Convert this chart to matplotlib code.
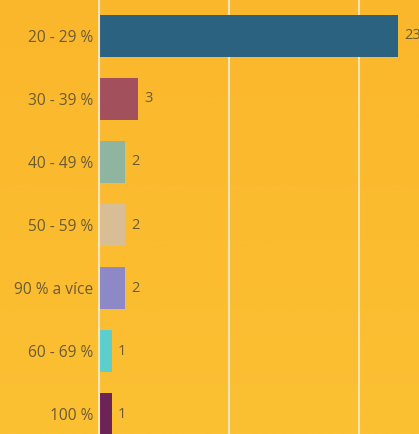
import matplotlib
matplotlib.use("Agg")
import matplotlib.pyplot as plt
import numpy as np
from matplotlib.colors import LinearSegmentedColormap

# data
categories = ["20 - 29 %", "30 - 39 %", "40 - 49 %", "50 - 59 %",
              "90 % a více", "60 - 69 %", "100 %"]
counts = [23, 3, 2, 2, 2, 1, 1]
bar_colors = ["#2b6280", "#a1505c", "#8fb4a0", "#d8bd95",
              "#8d88c6", "#5ccfcd", "#6c2456"]

bg = "#fbb92f"
txt = "#6b5c30"
grid_c = "#f6e4bd"

plt.rcParams['font.family'] = ['Open Sans', 'DejaVu Sans']

fig = plt.figure(figsize=(4.19, 4.34), dpi=100)
fig.patch.set_facecolor(bg)

# subtle background gradient
bgax = fig.add_axes([0, 0, 1, 1], zorder=-10)
grad = np.linspace(0, 1, 256).reshape(-1, 1)
cmap = LinearSegmentedColormap.from_list("bg", ["#fbb72c", "#fbc033"])
bgax.imshow(grad, aspect="auto", cmap=cmap, extent=[0, 1, 0, 1], origin="upper")
bgax.axis("off")

ax = fig.add_axes([99 / 419, 0, 1 - 99 / 419, 1])
ax.patch.set_alpha(0)

y = np.arange(len(categories))
ax.barh(y, counts, height=0.68, color=bar_colors, zorder=3)
for yi, v in zip(y, counts):
    ax.text(v + 0.45, yi, str(v), va="center", ha="left",
            fontsize=10.5, color=txt, zorder=4, clip_on=False)

ax.set_xlim(0, 24.6)
ax.set_ylim(6.317, -0.571)
ax.set_xticks([0, 10, 20])
ax.xaxis.grid(True, color=grid_c, linewidth=1.5, zorder=1)
ax.tick_params(axis="x", bottom=False, labelbottom=False)
ax.tick_params(axis="y", length=0, pad=4, labelsize=11.2, labelcolor=txt)
ax.set_yticks(y)
ax.set_yticklabels(categories)
for s in ["top", "right", "bottom"]:
    ax.spines[s].set_visible(False)
ax.spines["left"].set_color(grid_c)
ax.spines["left"].set_linewidth(1.5)
ax.spines["left"].set_zorder(5)

fig.savefig("out.png", dpi=100, facecolor=fig.get_facecolor())
